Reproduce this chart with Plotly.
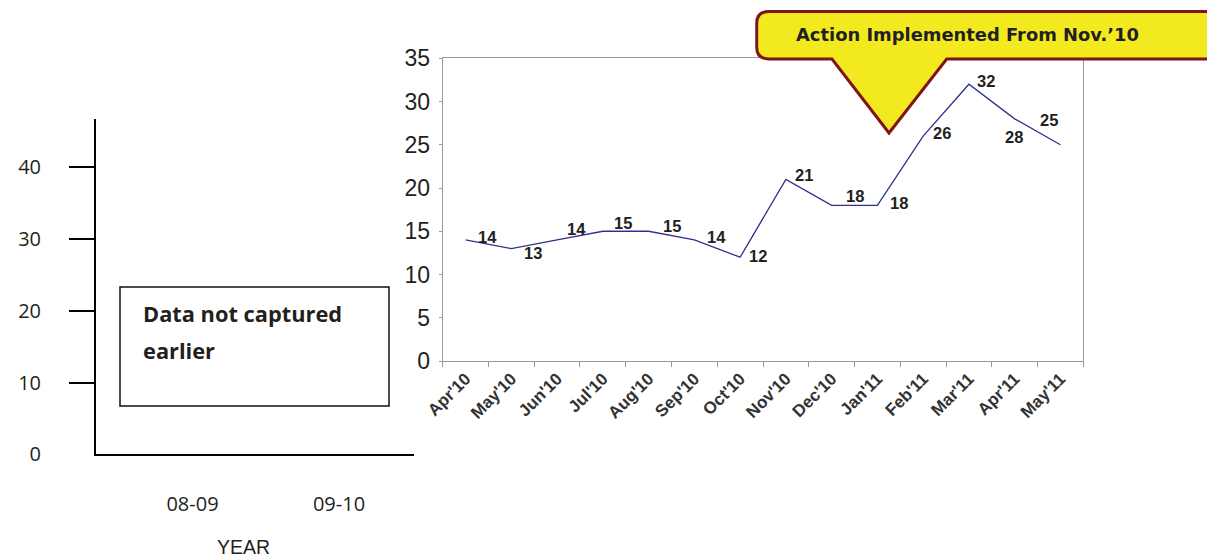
import plotly.graph_objects as go

# ---------------- data ----------------
months = ["Apr'10", "May'10", "Jun'10", "Jul'10", "Aug'10", "Sep'10", "Oct'10",
          "Nov'10", "Dec'10", "Jan'11", "Feb'11", "Mar'11", "Apr'11", "May'11"]
values = [14, 13, 14, 15, 15, 14, 12, 21, 18, 18, 26, 32, 28, 25]
main_yticks = [0, 5, 10, 15, 20, 25, 30, 35]

left_years = ["08-09", "09-10"]
left_year_pos = [0, 1]
left_yticks = [0, 10, 20, 30, 40]
left_note = ["Data not captured", "earlier"]
callout_text = "Action Implemented From Nov.\u201910"
left_xtitle = "YEAR"

# label offsets (pixels) for each data label: (dx, dy up)
label_offsets = [(22, 3), (22, -4), (19, 11), (20, 8), (23, 5), (22, 3), (18, 1),
                 (18, 4), (23, 9), (22, 2), (19, 3), (17, 3), (-1, -18), (-11, 25)]

W, H = 1207, 558


def px(x):
    return x / W


def py(y):
    return 1 - y / H


fig = go.Figure()

fig.add_trace(go.Scatter(
    x=months, y=values, mode="lines",
    line=dict(color="#2E3192", width=1.3),
    xaxis="x", yaxis="y", showlegend=False, hoverinfo="x+y",
))

# invisible trace so that the left (empty) panel axes are drawn
fig.add_trace(go.Scatter(
    x=left_year_pos, y=[0, 0], mode="markers", marker=dict(opacity=0),
    xaxis="x2", yaxis="y2", showlegend=False, hoverinfo="skip",
))

annotations = []
for m, v, (dx, dy) in zip(months, values, label_offsets):
    annotations.append(dict(
        x=m, y=v, xref="x", yref="y", text=str(v), showarrow=False,
        xshift=dx, yshift=dy,
        font=dict(family="Liberation Sans, Arial", size=16.5, color="#231F20", weight="bold"),
    ))

# left panel notes
for line, yy in zip(left_note, [313, 350]):
    annotations.append(dict(
        x=px(141), y=py(yy), xref="paper", yref="paper", text="<b>" + line + "</b>",
        showarrow=False, xanchor="left", yanchor="middle",
        font=dict(family="Open Sans", size=21.8, color="#231F20"),
    ))
annotations.append(dict(
    x=px(243), y=py(547), xref="paper", yref="paper", text=left_xtitle,
    showarrow=False, xanchor="center", yanchor="middle",
    font=dict(family="Liberation Sans, Arial", size=19.5, color="#231F20"),
))
annotations.append(dict(
    x=px(794), y=py(35), xref="paper", yref="paper", text="<b>" + callout_text + "</b>",
    showarrow=False, xanchor="left", yanchor="middle",
    font=dict(family="DejaVu Sans", size=17.9, color="#231F20"),
))


def P(x, y):
    return f"{px(x):.5f},{py(y):.5f}"


L, R, T, B, r = 756.7, 1228, 11.5, 59, 12
path = (
    f"M {P(L + r, T)} L {P(R - r, T)} Q {P(R, T)} {P(R, T + r)} "
    f"L {P(R, B - r)} Q {P(R, B)} {P(R - r, B)} "
    f"L {P(946.7, B)} L {P(889, 133)} L {P(832, B)} "
    f"L {P(L + r, B)} Q {P(L, B)} {P(L, B - r)} "
    f"L {P(L, T + r)} Q {P(L, T)} {P(L + r, T)} Z"
)

shapes = [
    dict(type="path", path=path, xref="paper", yref="paper",
         fillcolor="#F2EA1E", line=dict(color="#7F1518", width=3), layer="above"),
    dict(type="rect", xref="paper", yref="paper",
         x0=px(120), x1=px(389), y0=py(406), y1=py(287),
         line=dict(color="#111111", width=1.5), fillcolor="rgba(0,0,0,0)"),
]

fig.update_layout(
    width=W, height=H,
    margin=dict(l=0, r=0, t=0, b=0, pad=0, autoexpand=False),
    paper_bgcolor="white", plot_bgcolor="white",
    showlegend=False,
    xaxis=dict(
        domain=[px(442.7), px(1083.3)], anchor="y", automargin=False,
        type="category", categoryorder="array", categoryarray=months,
        range=[-0.5, len(months) - 0.5],
        tickson="boundaries", ticks="outside", ticklen=5, tickcolor="#9A9A9A",
        showline=True, linecolor="#9A9A9A", linewidth=1.2, mirror=True,
        showgrid=False, zeroline=False,
        tickangle=-45,
        tickfont=dict(family="Liberation Sans, Arial", size=17, color="#333333", weight="bold"),
    ),
    yaxis=dict(
        domain=[py(361), py(58.3)], anchor="x", automargin=False,
        range=[0, 35], tickvals=main_yticks,
        ticks="outside", ticklen=3, tickcolor="#9A9A9A",
        showline=True, linecolor="#9A9A9A", linewidth=1.2, mirror=True,
        showgrid=False, zeroline=False,
        ticklabelstandoff=4,
        tickfont=dict(family="Liberation Sans, Arial", size=23, color="#231F20"),
    ),
    xaxis2=dict(
        domain=[px(96), px(414)], anchor="y2", automargin=False,
        range=[-0.659, 1.512], tickvals=left_year_pos, ticktext=left_years,
        ticks="", showline=True, linecolor="black", linewidth=2,
        showgrid=False, zeroline=False, ticklabelstandoff=31,
        tickfont=dict(family="Open Sans", size=20, color="#231F20"),
    ),
    yaxis2=dict(
        domain=[py(454.3), py(119)], anchor="x2", automargin=False,
        range=[0, 46.7], tickvals=left_yticks,
        ticks="", showline=True, linecolor="black", linewidth=2,
        showgrid=False, zeroline=False, ticklabelstandoff=49,
        minor=dict(tickvals=left_yticks[1:], ticks="outside", ticklen=25,
                   tickcolor="black", tickwidth=1.5, showgrid=False),
        tickfont=dict(family="Open Sans", size=20, color="#231F20"),
    ),
    annotations=annotations,
    shapes=shapes,
)

fig.write_html("out.html", config={"displayModeBar": False},
               post_script="document.body.style.margin='0';")
